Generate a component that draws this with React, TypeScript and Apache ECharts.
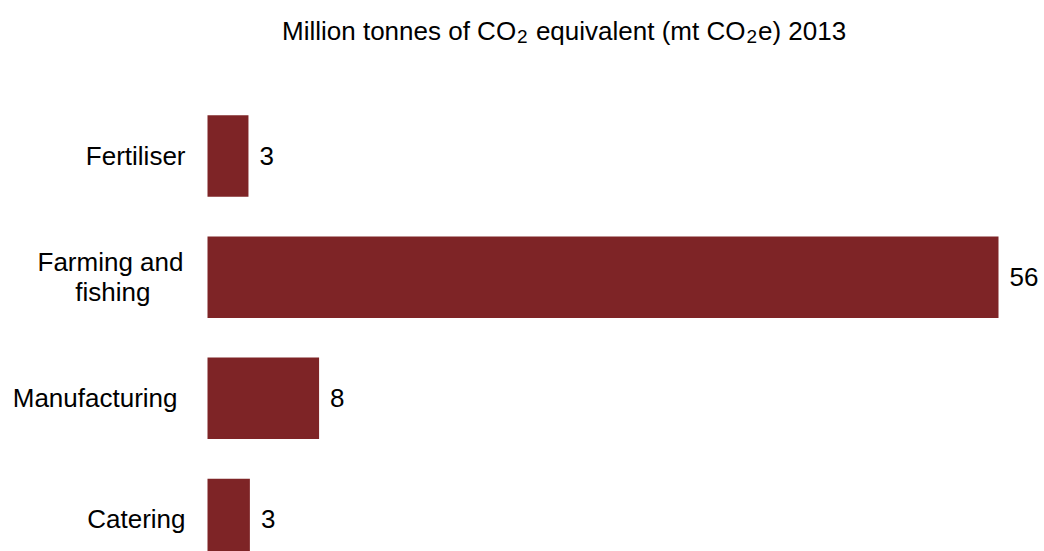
import React, { useEffect, useRef } from "react";
import * as echarts from "echarts";

const categories = ["Fertiliser", "Farming and\nfishing", "Manufacturing", "Catering"];
const values = [2.9, 56, 7.9, 3.0];
const titleParts = ["Million tonnes of CO", "2", " equivalent (mt CO", "2", "e) 2013"];

const FONT = "Liberation Sans, Arial, Helvetica, sans-serif";
const BAR_COLOR = "#7E2426";
const FS = 26;

export default function App() {
  const ref = useRef<HTMLDivElement>(null);
  useEffect(() => {
    if (!ref.current) return;
    const chart = echarts.init(ref.current, null, { renderer: "svg" });
    const titleText =
      titleParts[0] + "{sub|" + titleParts[1] + "}" + titleParts[2] + "{sub|" + titleParts[3] + "}" + titleParts[4];
    chart.setOption({
      animation: false,
      backgroundColor: "#ffffff",
      title: {
        text: titleText,
        left: 282,
        top: 16,
        padding: 0,
        textStyle: {
          fontFamily: FONT,
          fontSize: FS,
          fontWeight: "normal",
          color: "#000",
          lineHeight: 30,
          rich: {
            sub: { fontFamily: FONT, fontSize: 19, color: "#000", lineHeight: 30, verticalAlign: "bottom", padding: [14, 1, 0, 1] },
          },
        },
      },
      grid: { left: 207.5, top: 95.5, right: 1044 - 998.5, bottom: 0, containLabel: false },
      xAxis: { type: "value", min: 0, max: 56, show: false },
      yAxis: {
        type: "category",
        data: categories,
        inverse: true,
        axisLine: { show: false },
        axisTick: { show: false },
        splitLine: { show: false },
        axisLabel: {
          margin: 22,
          fontFamily: FONT,
          fontSize: FS,
          color: "#000",
          lineHeight: 30,
          formatter: (v: string) => {
            const lines = v.split("\n");
            if (lines.length === 1) return v === "Manufacturing" ? "{m|" + v + "}" : v;
            return "{a|" + lines[0] + "}\n{b|" + lines[1] + "}";
          },
          rich: {
            a: { fontFamily: FONT, fontSize: FS, color: "#000", lineHeight: 30, padding: [0, 2, 0, 0] },
            b: { fontFamily: FONT, fontSize: FS, color: "#000", lineHeight: 30, padding: [0, 35, 0, 0] },
            m: { fontFamily: FONT, fontSize: FS, color: "#000", lineHeight: 30, padding: [0, 8, 0, 0] },
          },
        },
      },
      series: [
        {
          type: "bar",
          data: values,
          barWidth: 81.5,
          itemStyle: { color: BAR_COLOR },
          label: {
            show: true,
            position: "right",
            distance: 11,
            fontFamily: FONT,
            fontSize: FS,
            color: "#000",
            formatter: (p: any) => String(Math.round(p.value)),
          },
        },
      ],
    });
    return () => chart.dispose();
  }, []);
  return (
    <div
      ref={ref}
      style={{ position: "fixed", left: 0, top: 0, width: 1044, height: 580, background: "#fff" }}
    />
  );
}
